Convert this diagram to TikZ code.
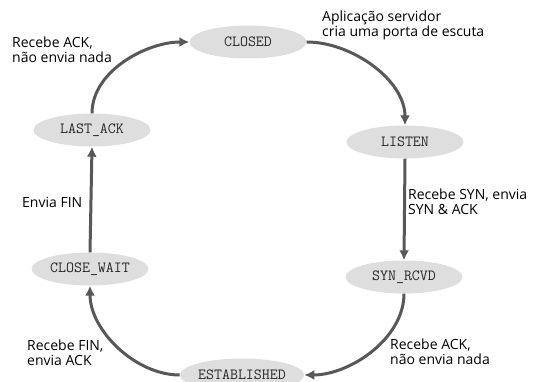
\documentclass[tikz,border=0pt]{standalone}
\usepackage{fontspec}
\setmainfont{Open Sans}
\usetikzlibrary{shapes.geometric,arrows.meta}
\definecolor{ellfill}{RGB}{222,222,222}
\definecolor{arrcol}{RGB}{88,88,88}
\definecolor{txtcol}{RGB}{40,40,40}
\begin{document}
\begin{tikzpicture}[x=1pt,y=-1pt,
  state/.style={ellipse,fill=ellfill,minimum width=117pt,minimum height=33pt,inner sep=0pt,text=txtcol,font=\ttfamily\fontsize{15.5}{16}\selectfont},
  conn/.style={draw=arrcol,line width=3pt,-{Latex[length=10pt,width=10pt]}},
  lbl/.style={align=left,anchor=north west,inner sep=0pt,font=\fontsize{14}{14.5}\selectfont}]
\useasboundingbox (0,0) rectangle (533,382);
\node[state] (closed) at (248,42) {CLOSED};
\node[state] (listen) at (405,142) {LISTEN};
\node[state] (lastack) at (92,130) {LAST\_ACK};
\node[state] (closewait) at (90,269) {CLOSE\_WAIT};
\node[state] (synrcvd) at (404,277) {SYN\_RCVD};
\node[state] (established) at (242,375) {ESTABLISHED};

\draw[conn] (closed.east) to[out=0,in=90,looseness=0.9] (listen.north);
\draw[conn] (listen.south) -- (synrcvd.north);
\draw[conn] (synrcvd.south) to[out=-90,in=0,looseness=0.9] (established.east);
\draw[conn] (established.west) to[out=180,in=-90,looseness=0.9] (closewait.south);
\draw[conn] (closewait.north) -- (lastack.south);
\draw[conn] (lastack.north) to[out=90,in=180,looseness=0.9] (closed.west);

\node[lbl] (l1) at (12,37) {Recebe ACK,\\não envia nada};
\node[lbl] (l2) at (322,11) {Aplicação servidor\\cria uma porta de escuta};
\node[lbl] (l3) at (22,197) {Envia FIN};
\node[lbl] (l4) at (408,189) {Recebe SYN, envia\\SYN \& ACK};
\node[lbl] (l5) at (27,340) {Recebe FIN,\\envia ACK};
\node[lbl] (l6) at (390,339) {Recebe ACK,\\não envia nada};
\end{tikzpicture}
\end{document}
